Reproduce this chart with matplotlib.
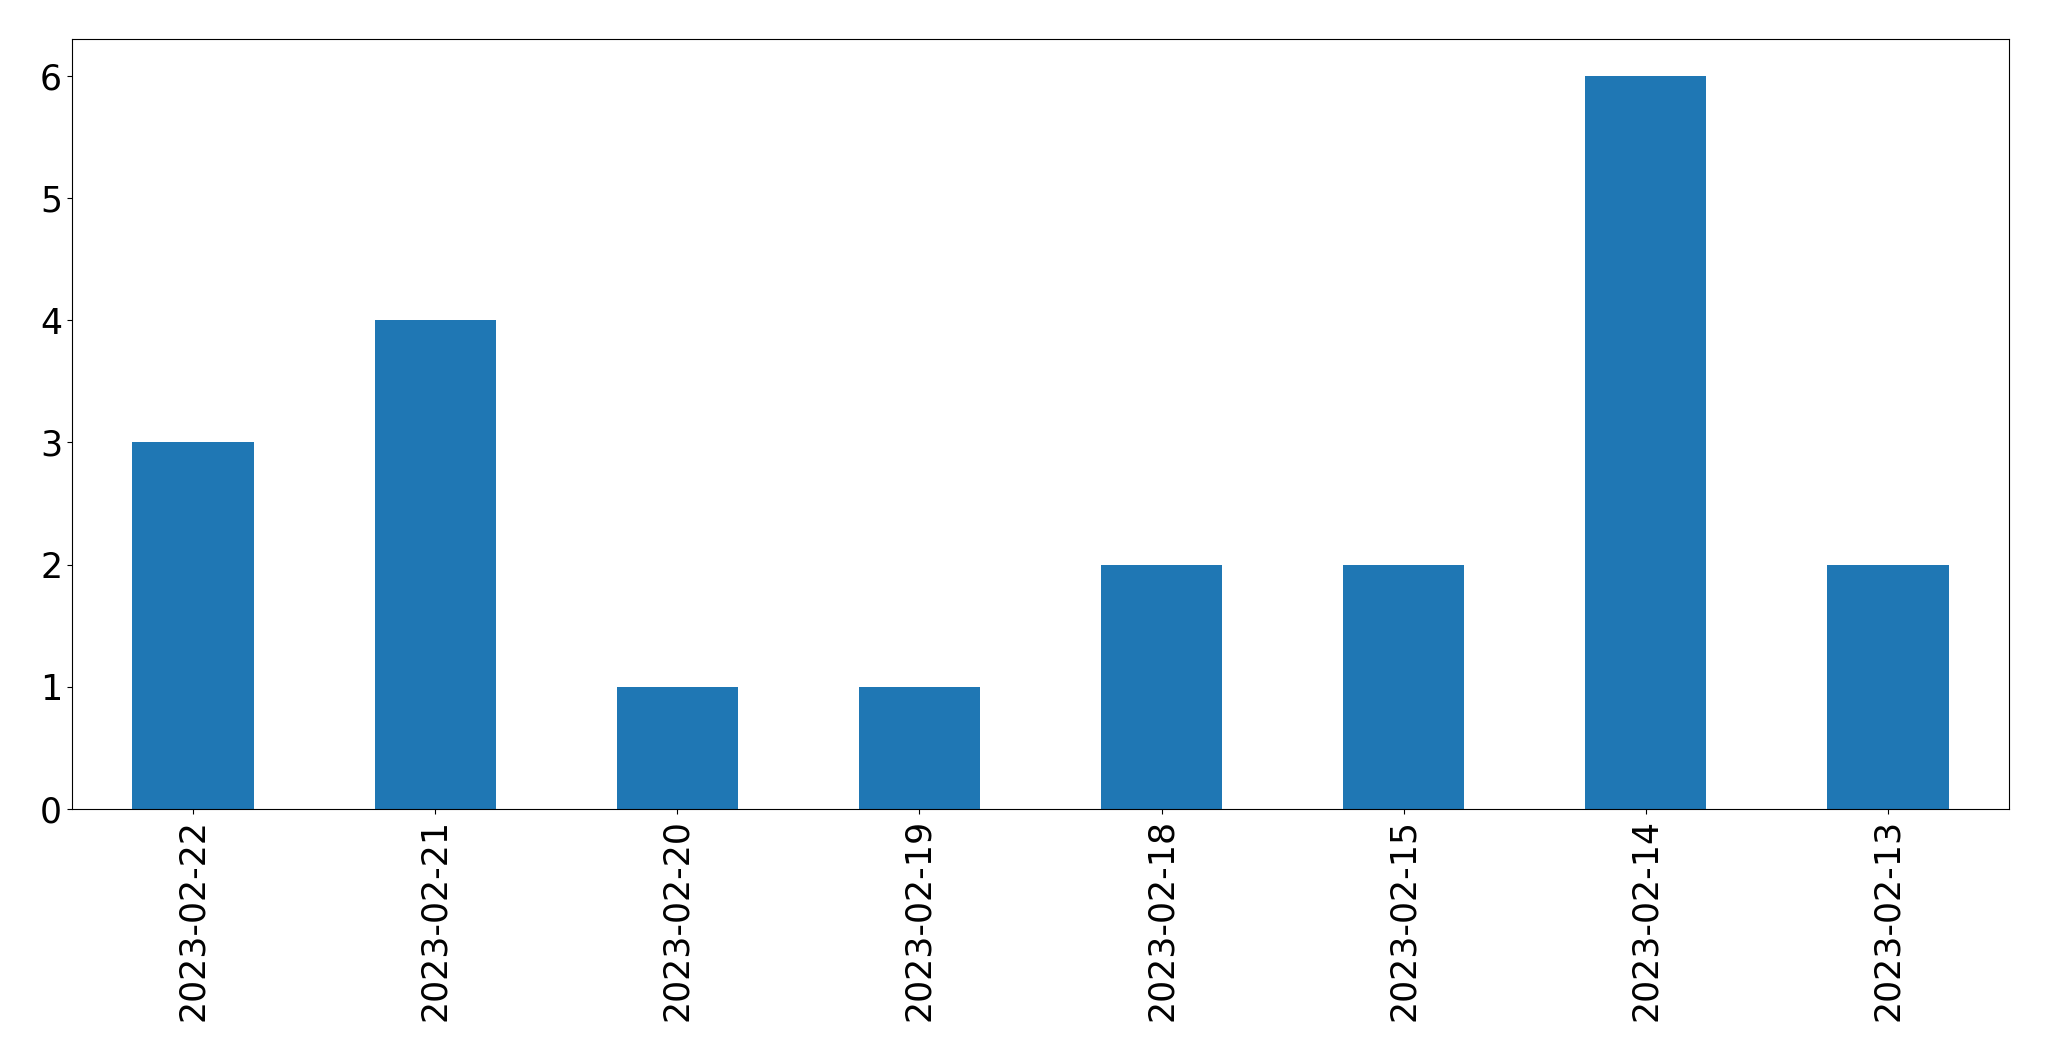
import matplotlib
matplotlib.use("Agg")
import matplotlib.pyplot as plt
import pandas as pd

dates = ["2023-02-22", "2023-02-21", "2023-02-20", "2023-02-19",
         "2023-02-18", "2023-02-15", "2023-02-14", "2023-02-13"]
counts = [3, 4, 1, 1, 2, 2, 6, 2]

s = pd.Series(counts, index=dates)

fig = plt.figure(figsize=(20.49, 10.61), dpi=100)
ax = fig.add_axes([0.0351, 0.2375, 0.9454, 0.7257])
s.plot(kind="bar", ax=ax, color="#1f77b4")
ax.tick_params(axis="both", labelsize=25)

fig.savefig("out.png", dpi=100)
